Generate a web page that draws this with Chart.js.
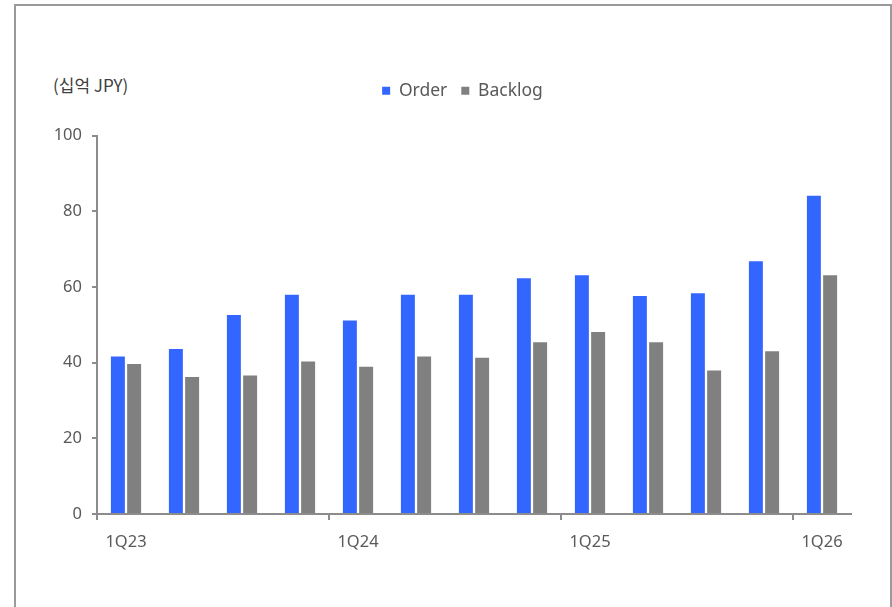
<!DOCTYPE html>
<html>
<head>
<meta charset="utf-8">
<script src="https://cdn.jsdelivr.net/npm/chart.js@4.4.0/dist/chart.umd.min.js"></script>
<style>
  html, body { margin: 0; padding: 0; background: #fff; }
  .frame {
    position: absolute; left: 14px; top: 4px; width: 874px; height: 640px;
    border: 2px solid #9a9a9a; border-bottom: none;
  }
  .unit {
    position: absolute; left: 53px; top: 72px;
    font-family: "Noto Sans CJK KR", "Noto Sans", sans-serif; font-size: 17px; color: #404040;
  }
  .chart-box { position: absolute; left: 0; top: 0; width: 892px; height: 607px; }
</style>
</head>
<body>
<div class="frame"></div>
<div class="unit">(십억 JPY)</div>
<div class="chart-box"><canvas id="chart"></canvas></div>
<script>
const quarters = ['1Q23', '2Q23', '3Q23', '4Q23', '1Q24', '2Q24', '3Q24', '4Q24',
  '1Q25', '2Q25', '3Q25', '4Q25', '1Q26'];
const orderValues = [41.6, 43.6, 52.6, 57.9, 51.1, 57.9, 57.9, 62.3, 63.1, 57.6, 58.3, 66.8, 84.1];
const backlogValues = [39.6, 36.2, 36.6, 40.3, 38.9, 41.6, 41.3, 45.4, 48.1, 45.4, 37.9, 43.0, 63.1];
const yTicks = [0, 20, 40, 60, 80, 100];

const axisColor = '#8c8c8c';
const textColor = '#595959';
const font = { family: 'Noto Sans', size: 16.5 };

// legend: extra room below it and nudged to the right like the original
const legendTweak = {
  id: 'legendTweak',
  beforeInit(chart) {
    const legend = chart.legend;
    const fit = legend.fit.bind(legend);
    legend.fit = function () { fit(); this.height += 26; };
  },
  afterLayout(chart) {
    chart.legend.left += 37;
    chart.legend.right += 37;
  },
};

const ctx = document.getElementById('chart').getContext('2d');
new Chart(ctx, {
  type: 'bar',
  data: {
    labels: quarters,
    datasets: [
      { label: 'Order', data: orderValues, backgroundColor: '#3366ff',
        categoryPercentage: 0.56, barPercentage: 0.86 },
      { label: 'Backlog', data: backlogValues, backgroundColor: '#808080',
        categoryPercentage: 0.56, barPercentage: 0.86 },
    ],
  },
  plugins: [legendTweak],
  options: {
    responsive: true,
    maintainAspectRatio: false,
    animation: false,
    layout: { padding: { left: 0, right: 41, top: 68, bottom: 0 } },
    plugins: {
      legend: {
        display: true,
        labels: {
          boxWidth: 8, boxHeight: 8, padding: 14, color: textColor,
          font: { family: 'Noto Sans', size: 17.5 },
        },
      },
      tooltip: { enabled: false },
    },
    scales: {
      x: {
        grid: {
          drawOnChartArea: false, offset: true, tickLength: 6, lineWidth: 2,
          tickColor: (c) => (c.index % 4 === 0 && c.index < quarters.length ? axisColor : 'transparent'),
        },
        border: { color: axisColor, width: 2 },
        ticks: {
          autoSkip: false, maxRotation: 0, padding: 12, color: textColor, font: font,
          callback: (val, i) => (i % 4 === 0 ? quarters[i] : ''),
        },
        afterFit: (scale) => { scale.height = 93; },
      },
      y: {
        min: 0, max: 100,
        afterBuildTicks: (scale) => { scale.ticks = yTicks.map((v) => ({ value: v })); },
        grid: { drawOnChartArea: false, tickLength: 5, lineWidth: 2, tickColor: axisColor },
        border: { color: axisColor, width: 2 },
        ticks: { padding: 10, color: textColor, font: font },
        afterFit: (scale) => { scale.width = 97; },
      },
    },
  },
});
</script>
</body>
</html>
